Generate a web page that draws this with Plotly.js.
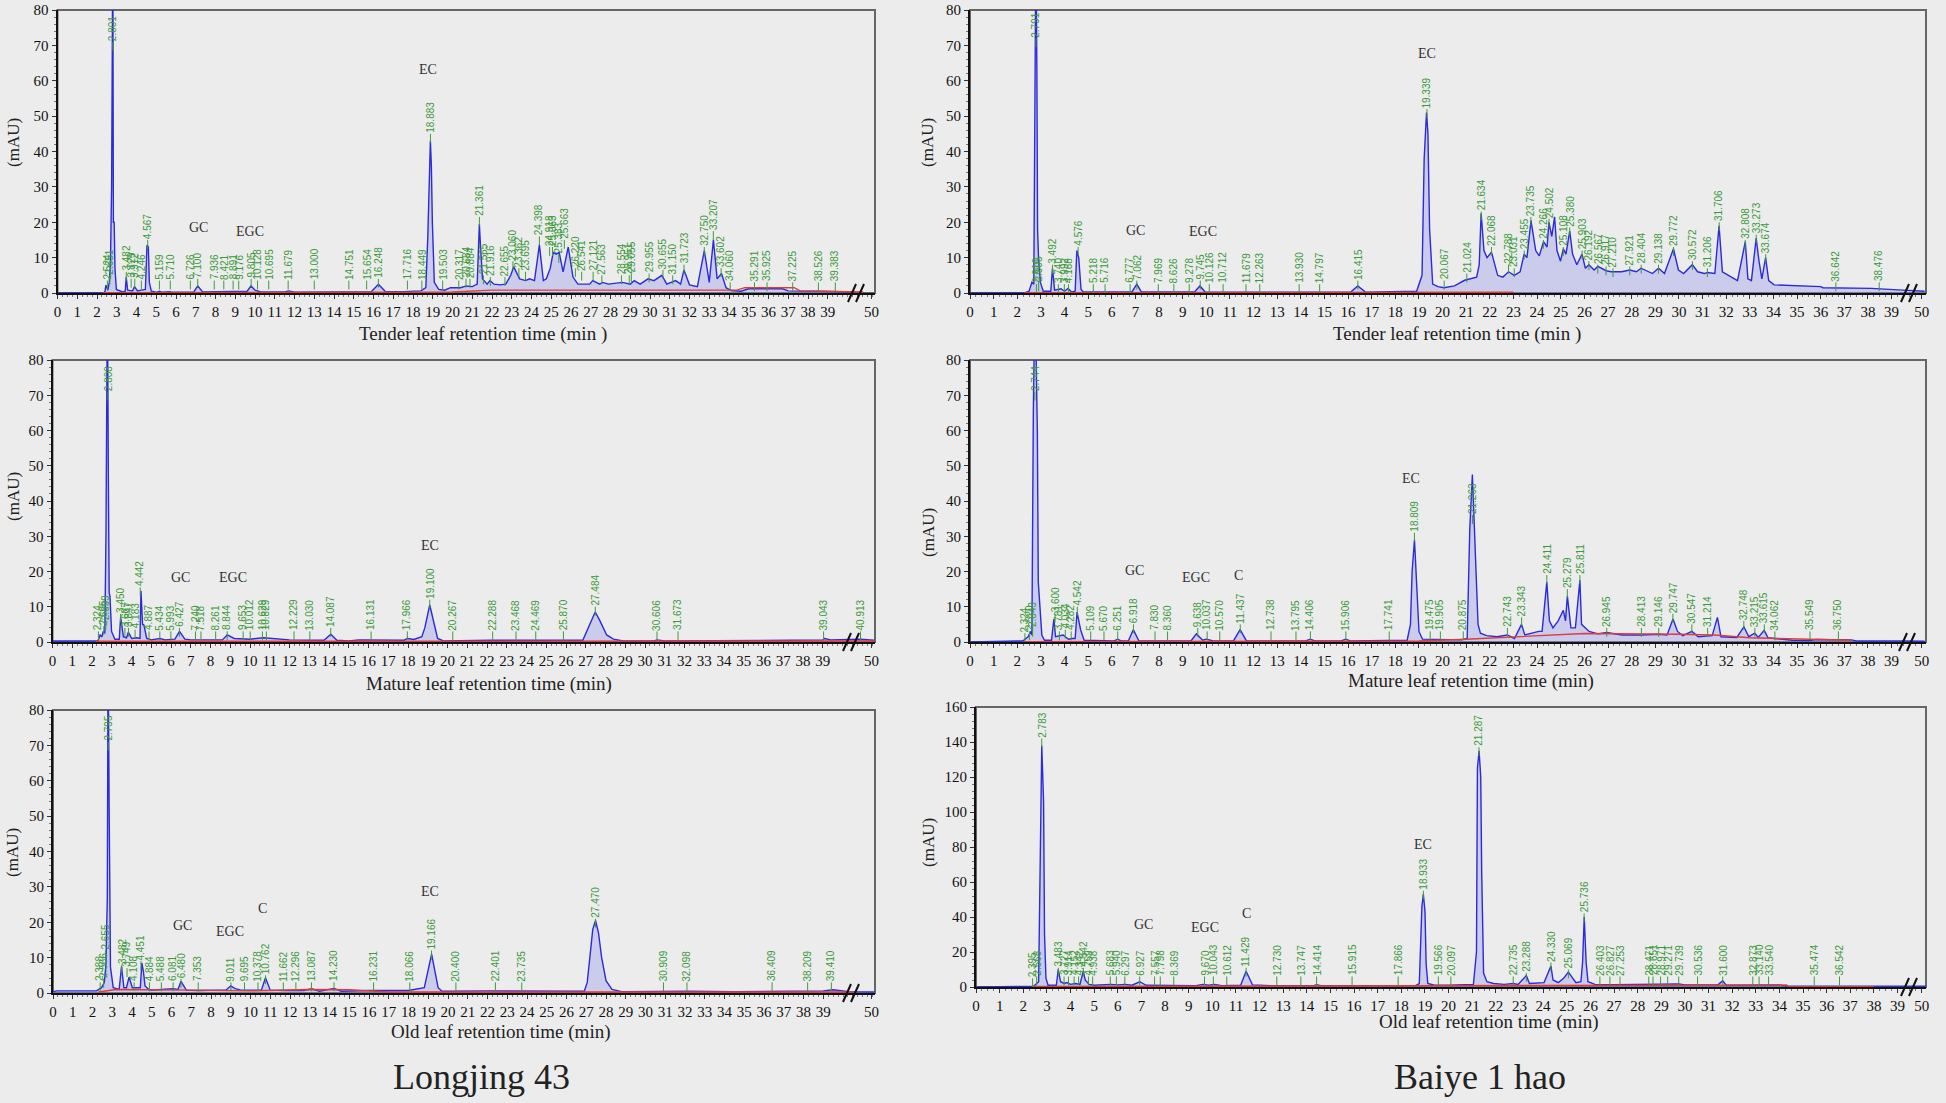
<!DOCTYPE html>
<html><head><meta charset="utf-8">
<script src="https://cdn.plot.ly/plotly-3.0.1.min.js"></script>
<style>html,body{margin:0;padding:0;background:#ececec;}#chart{width:1946px;height:1103px;}</style>
</head><body><div id="chart"></div>
<script>
// ===================== DATA =====================
// Longjing 43 - Tender leaf
const ljTender_t = [0,2.3,2.4,2.45,2.55,2.62,2.68,2.74,2.8,2.83,2.87,2.91,2.98,3.3,3.43,3.48,3.55,3.8,3.9,4.05,4.25,4.45,4.53,4.6,4.65,4.75,5.0,5.16,5.3,5.7,5.8,6.9,7.1,7.35,9.6,9.8,10.0,10.3,11.5,11.7,12.0,15.9,16.25,16.6,17.5,18.4,18.65,18.75,18.88,18.93,18.98,19.08,19.3,19.6,19.9,20.4,20.7,21.0,21.25,21.36,21.42,21.52,21.6,21.75,21.9,22.1,22.4,22.7,22.95,23.1,23.4,23.7,23.9,24.15,24.4,24.6,24.75,24.95,25.1,25.25,25.4,25.6,25.86,26.1,26.35,26.95,27.1,27.45,27.6,27.9,28.6,29.0,29.2,29.5,29.9,30.2,30.6,30.85,31.3,31.55,31.72,32.0,32.4,32.75,33.0,33.21,33.4,33.62,33.85,34.1,34.6,35.0,36.7,37.0,38.5,40.4];
const ljTender_y = [0,0,0.3,2.2,0.8,3,8,30,100,20,20,7,1,0.3,0.5,4.5,0.8,0.6,1.8,0.6,0.8,1,13.5,13,3,0.5,0.2,0.5,0.2,0.4,0.2,0.3,2,0.3,0.5,2,0.8,0.3,0.3,0.6,0.2,0.4,2.5,0.4,0.4,0.6,1.5,16,43,36,20,3,1,0.8,1.5,1.5,2,1.8,2.5,19.5,13,4,3.5,2.5,3.5,2.5,2.3,2.5,5,7.4,4,3.5,4,3.5,13.6,3.5,4,7,11.5,11,11.5,6,13,4.5,2.5,2.5,3.5,2.5,3,2.5,3,2.5,3.5,2.5,4,3.5,5,2.5,3.5,2.5,6.5,2.3,1.8,12,3,15,4,5.5,1.5,0.7,0.5,1.2,1.2,0.6,0.5,0.3];
const ljTender_base_t = [2.3,20,22,34.4,34.8,37.3,37.6,40.8];
const ljTender_base_y = [0.1,0.3,0.8,0.8,1.5,1.5,0.6,0.3];
const ljTender_rt = [2.524,2.651,2.801,3.482,3.729,3.912,4.246,4.567,5.159,5.710,6.726,7.100,7.936,8.421,8.891,9.176,9.805,10.128,10.695,11.679,13.000,14.751,15.654,16.248,17.716,18.449,18.883,19.503,20.317,20.684,20.884,21.361,21.565,21.916,22.655,23.060,23.362,23.695,24.398,24.918,25.063,25.383,25.663,26.220,26.541,27.121,27.563,28.554,28.951,29.055,29.955,30.655,31.150,31.723,32.750,33.207,33.602,34.060,35.291,35.925,37.225,38.526,39.383];
const ljTender_ly = [3.5,5,71,6,4,4,3.5,15,3.5,3.5,3.5,4,3.5,3.5,3.5,3.5,4,3.5,3.5,3.5,3.5,3.5,3.5,4,3.5,3.5,45,3.5,3.5,4,4,21.5,5,4.5,4.5,9,7,6,16,13,13,11,15,7,6,6,5,5,5,5.5,5.5,6.5,5,8,13,17.5,7,3,3,3,3,3,3];
const ljTender_cmp = ['GC','EGC','EC'];
const ljTender_cmp_t = [7.13,9.74,18.77];
const ljTender_cmp_y = [16,14.9,60.7];

// Baiye 1 hao - Tender leaf
const byTender_t = [0,2.3,2.5,2.62,2.7,2.75,2.79,2.83,2.86,2.9,2.98,3.1,3.42,3.49,3.58,3.85,4.0,4.15,4.3,4.45,4.52,4.6,4.7,4.8,6.85,7.06,7.25,9.5,9.73,9.95,16.1,16.41,16.75,18.9,19.13,19.22,19.32,19.38,19.45,19.58,19.8,20.06,20.5,20.93,21.2,21.44,21.55,21.63,21.75,21.88,22.07,22.33,22.55,22.79,23.03,23.28,23.45,23.57,23.74,23.94,24.09,24.27,24.42,24.5,24.62,24.74,24.84,24.99,25.11,25.22,25.38,25.5,25.68,25.9,26.04,26.19,26.41,26.57,26.92,27.14,27.58,27.92,28.2,28.4,28.88,29.14,29.39,29.77,29.98,30.2,30.57,30.79,31.08,31.2,31.52,31.7,31.84,32.48,32.81,32.92,33.07,33.27,33.39,33.51,33.67,33.8,34.03,34.6,36.0,36.1,38.15,39.47,40.4];
const byTender_y = [0,0,0.5,3,2.5,58,100,63,18,10,3,0.5,0.5,7,0.8,1.2,0.5,1.3,0.3,0.5,12,10,1,0.3,0.3,2.5,0.3,0.3,2,0.3,0.2,2,0.2,0.5,5,38,51,45,18,2.5,1.8,1.5,2,3.6,4,4.5,8,22.5,12,10,11.5,5,4.5,6,5,6,11,10,20.5,12,10.5,14.5,13,20,16,21.5,12,9,12.5,11,17.5,11,8,11,7,8,6.5,7.5,6.3,6,6,6.5,6,7,5.5,7,5.5,12.5,6.5,5.5,8,6,5.5,5.8,5.5,19,6,3.5,14.5,4,3.5,15.5,9,4,10,3.5,2.3,2.2,1.8,1.5,1.3,0.8,0.5];
const byTender_base_t = [2.3,23];
const byTender_base_y = [0.1,0.2];
const byTender_rt = [2.810,2.905,2.791,3.492,3.740,3.992,4.168,4.576,5.218,5.716,6.777,7.062,7.969,8.626,9.278,9.745,10.126,10.712,11.679,12.263,13.930,14.797,16.415,19.339,20.067,21.024,21.634,22.068,22.788,23.031,23.455,23.735,24.266,24.502,25.108,25.380,25.903,26.192,26.567,26.917,27.210,27.921,28.404,29.138,29.772,30.572,31.206,31.706,32.808,33.273,33.674,36.642,38.476];
const byTender_ly = [2.5,3,72,8,2.5,2.5,2.5,13,2.5,2.5,2.5,3.5,2.5,2.5,2.5,3.5,2.5,2.5,2.5,2.5,2.5,2.5,3.5,52,3.5,5.5,23,13,8,7,12,21.5,15,21,13,18.5,12,9,8,7.5,7,7.5,8,8,13,9,7,20,15,16.5,11,3,3];
const byTender_cmp = ['GC','EGC','EC'];
const byTender_cmp_t = [7.01,9.88,19.34];
const byTender_cmp_y = [15.2,14.9,65.4];

// Longjing 43 - Mature leaf
const ljMature_t = [0,2.3,2.41,2.5,2.57,2.65,2.71,2.78,2.83,2.87,2.91,2.99,3.16,3.38,3.45,3.59,3.75,3.84,4.01,4.26,4.43,4.48,4.56,4.63,4.77,5.0,5.44,5.7,6.2,6.43,6.7,7.0,8.6,8.85,9.2,9.6,10.0,10.68,11.5,12.0,13.75,14.09,14.4,15.0,15.5,16.5,17.0,17.8,17.97,18.3,18.7,18.85,19.1,19.35,19.5,19.8,22.2,26.85,27.2,27.48,27.72,28.06,28.4,28.9,30.45,30.61,31.0,34.0,34.2,36.4,36.6,37.5,39.0,39.1,39.4,40.9,41.6];
const ljMature_y = [0.3,0.3,2,1.5,3,2.5,32,100,45,14,13,3,0.8,0.8,7,1.5,1.2,2.8,1,1.2,1,14.5,5,4.8,1,0.6,1,0.6,0.8,3,0.8,0.6,0.6,2,1,0.8,0.8,1.2,0.8,0.6,0.5,2.2,0.5,0.3,0.6,0.6,0.4,0.5,1,0.7,1.5,4,10.5,4,1,0.3,0.5,0.5,5,8.5,6,2,0.8,0.3,0.3,0.6,0.3,0.3,0.5,0.5,0.3,0.5,0.6,1,0.6,0.8,0.5];
const ljMature_base_t = [2.2,41.6];
const ljMature_base_y = [0.2,0.3];
const ljMature_rt = [2.324,2.595,2.699,2.808,3.450,3.667,3.847,4.183,4.442,4.887,5.434,5.993,6.427,7.240,7.518,8.261,8.844,9.653,10.012,10.629,10.829,12.229,13.030,14.087,16.131,17.966,19.100,20.267,22.288,23.468,24.469,25.870,27.484,30.606,31.673,39.043,40.913];
const ljMature_ly = [3,4.5,6,71,8,4,4,3.5,15.5,3,3,3,4,3,3,3,3,3,3,3,3,3,3,4,3,3,12,3,3,3,3,3,10,3,3,3,3];
const ljMature_cmp = ['GC','EGC','EC'];
const ljMature_cmp_t = [6.46,9.16,19.11];
const ljMature_cmp_y = [15.8,15.8,25];

// Baiye 1 hao - Mature leaf
const byMature_t = [0,2.23,2.46,2.56,2.62,2.68,2.75,2.85,2.89,2.96,3.04,3.15,3.45,3.55,3.62,3.94,4.17,4.31,4.45,4.53,4.6,4.68,4.83,6.1,6.25,6.4,6.7,6.91,7.15,9.35,9.58,9.85,10.0,10.3,11.15,11.43,11.7,14.2,14.4,14.6,15.7,15.9,16.1,17.3,18.5,18.64,18.71,18.81,18.93,19.0,19.15,20.8,21.04,21.15,21.26,21.33,21.4,21.5,21.6,21.86,22.3,22.74,23.04,23.34,23.48,23.77,24.07,24.21,24.41,24.52,24.67,24.89,25.11,25.2,25.28,25.43,25.62,25.81,25.88,26.2,26.57,26.94,27.6,28.41,29.15,29.5,29.75,29.94,30.16,30.55,30.82,31.41,31.63,31.78,32.45,32.75,32.96,33.21,33.36,33.61,33.77,34.06,34.8,35.54,35.8,37.3,37.5,39.5,40.4];
const byMature_y = [0,0.3,1.5,3,2,65,100,60,17,8.5,2,0.5,0.5,6.5,1.5,2,0.8,1,1,8.5,6,3.5,0.5,0.3,0.8,0.3,0.3,3.5,0.3,0.3,2.3,0.5,0.8,0.3,0.3,3.5,0.3,0.3,0.8,0.3,0.3,0.8,0.3,0.5,0.5,5,20,29,13,3,0.8,0.6,1,32,47.5,35,25,5,2.5,1.8,1.5,2,1,5,2,2.5,3,3,17,6,4,6,9,6,13,4,4,17.5,5,3,2.3,2.7,2,2,2.2,2,6.5,3,1.8,3,1.5,1.8,7,1.5,1.3,4.3,1.5,2.5,1.3,3.3,1.2,1,0.5,0.4,0.7,0.6,0.3,0.3,0.2];
const byMature_base_t = [2.3,19,21,24,26,30,31.5,33,35,37.3];
const byMature_base_y = [0.1,0.3,0.8,1.8,2.4,2.2,2.0,1.2,0.9,0.5];
const byMature_rt = [2.324,2.520,2.649,2.744,3.600,3.781,4.034,4.282,4.542,5.109,5.670,6.251,6.918,7.830,8.360,9.638,10.037,10.570,11.437,12.738,13.795,14.406,15.906,17.741,18.809,19.475,19.905,20.875,21.263,22.743,23.343,24.411,25.279,25.811,26.945,28.413,29.146,29.747,30.547,31.214,32.748,33.215,33.615,34.062,35.549,36.750];
const byMature_ly = [2.5,3,4,71,8,3,3.5,3,10,3,3,3,5,3,3,4,3,3,5,3,3,3,3,3,31,3,3,3,36,4,7,19,15,19,4,4,4,8,5,4,6,4,5,3,3,3];
const byMature_cmp = ['GC','EGC','C','EC'];
const byMature_cmp_t = [6.98,9.58,11.36,18.68];
const byMature_cmp_y = [17.9,16,16.5,44];

// Longjing 43 - Old leaf
const ljOld_t = [0,0.2,2.2,2.46,2.6,2.68,2.75,2.79,2.84,2.91,3.05,3.35,3.47,3.59,3.72,3.85,4.02,4.28,4.42,4.5,4.58,4.66,4.9,5.49,6.08,6.33,6.48,6.75,7.35,8.4,8.75,9.0,9.2,9.5,10.4,10.55,10.76,11.0,11.8,12.7,13.09,13.5,14.23,14.6,16.0,17.0,18.0,18.8,19.17,19.5,19.7,22.0,25.0,26.9,27.05,27.2,27.33,27.47,27.62,27.78,28.0,28.3,28.8,32.2,34.5,39.0,39.5,40.3,41.6];
const ljOld_y = [0.4,0.6,0.6,1.5,3,8,27,100,54.5,7.3,1.5,1,7.5,1.5,1.5,4.5,1.5,1.5,1.5,8.5,6,2,0.8,1,1.2,1,3.3,0.8,0.7,0.8,0.8,2,1.3,0.8,0.9,0.8,4.3,0.8,0.7,0.7,1.2,0.5,1.3,0.5,0.7,0.7,0.7,1.5,11,1.5,0.5,0.6,0.6,0.5,3,11,18,20.5,17,10,3.5,1,0.4,0.5,0.4,0.6,0.9,0.4,0.3];
const ljOld_base_t = [2.3,3.2,7,10,13,15,17,40.5];
const ljOld_base_y = [0.3,1.0,0.8,0.6,1.0,0.9,0.3,0.3];
const ljOld_rt = [2.388,2.566,2.655,2.795,3.482,3.749,4.108,4.451,4.884,5.488,6.081,6.480,7.353,9.011,9.695,10.378,10.762,11.662,12.296,13.087,14.230,16.231,18.066,19.166,20.400,22.401,23.735,27.470,30.909,32.098,36.409,38.209,39.410];
const ljOld_ly = [3,4,12,71,8,7,3,9,3,3,3,4,3,3,3,3,5,3,3,3,3,3,3,12,3,3,3,21,3,3,3,3,3];
const ljOld_cmp = ['GC','EGC','C','EC'];
const ljOld_cmp_t = [6.58,8.97,10.62,19.07];
const ljOld_cmp_y = [16.7,15,21.6,26.3];

// Baiye 1 hao - Old leaf
const byOld_t = [0,2.45,2.65,2.73,2.783,2.86,2.9,2.96,3.05,3.4,3.48,3.58,3.73,3.85,4.0,4.2,4.4,4.54,4.62,4.79,5.0,5.7,6.0,6.3,6.6,6.93,7.2,9.3,9.6,9.85,10.1,10.4,11.2,11.43,11.7,12.5,14.3,14.41,14.6,18.6,18.76,18.87,18.93,19.0,19.05,19.12,19.4,20.0,21.05,21.18,21.22,21.29,21.36,21.4,21.48,21.62,21.9,22.35,22.74,22.94,23.29,23.42,23.82,24.04,24.33,24.42,24.64,24.87,25.07,25.24,25.39,25.6,25.67,25.74,25.82,25.9,26.19,27.0,29.74,30.0,31.4,31.6,31.75,34.0,34.3,38.0,40.2];
const byOld_y = [0,0.5,3,106,138,106,30,5,1,1,10,3,2,2.5,1.5,2,1.5,9,4,1.5,1,1.5,1.2,1.5,1,3,1,0.8,1.5,1,1.5,0.8,1,9,1.2,0.8,0.8,1.3,0.8,0.8,2,46,53,43.5,13,2,1,1,1.5,20,125,135,120,66,8,3,2,1.5,2,1.5,6.5,2,2.5,2.5,12,4,2.5,5,8.5,5.5,2.5,3,14,40,14,3,1.5,1.3,1.8,1.2,1.2,3.5,1,1.2,0.5,0.5,0.4];
const byOld_base_t = [2.4,20,34.3,34.4,38];
const byOld_base_y = [0.3,0.8,1.1,0.2,0.2];
const byOld_rt = [2.395,2.568,2.783,3.483,3.727,3.914,4.152,4.342,4.542,4.759,4.938,5.683,5.940,6.297,6.927,7.557,7.798,8.369,9.670,10.043,10.612,11.429,12.730,13.747,14.414,15.915,17.866,18.933,19.566,20.097,21.287,22.735,23.288,24.330,25.069,25.736,26.403,26.827,27.253,28.471,28.651,28.971,29.271,29.739,30.536,31.600,32.873,33.140,33.540,35.474,36.542];
const byOld_ly = [5,6,142,11,6,6,6,6,11,6,6,6,6,6,6,6,6,6,6,6,6,11,6,6,6,6,6,55,6,6,137,6,8,14,10,42,6,6,6,6,6,6,6,6,6,6,6,6,6,6,6];
const byOld_cmp = ['GC','EGC','C','EC'];
const byOld_cmp_t = [7.1,9.7,11.43,18.9];
const byOld_cmp_y = [31,29,37,76.7];

const xTickLabels = ['0','1','2','3','4','5','6','7','8','9','10','11','12','13','14','15','16','17','18','19','20','21','22','23','24','25','26','27','28','29','30','31','32','33','34','35','36','37','38','39','50'];
const varietyNames = ['Longjing 43','Baiye 1 hao'];

// ===================== LAYOUT / STYLE =====================
const W = 1946, H = 1103;
const panels = [
  {t:ljTender_t,y:ljTender_y,bt:ljTender_base_t,by:ljTender_base_y,rt:ljTender_rt,ly:ljTender_ly,cn:ljTender_cmp,ct:ljTender_cmp_t,cy:ljTender_cmp_y,
   L:57.5,R:875,top:10,bot:293,ppm:19.75,ymax:80,ydt:10,tick:2.5,
   xt:'Tender leaf retention time (min )',xtx:483,xty:334,ytx:13,yty:143,brk:857},
  {t:byTender_t,y:byTender_y,bt:byTender_base_t,by:byTender_base_y,rt:byTender_rt,ly:byTender_ly,cn:byTender_cmp,ct:byTender_cmp_t,cy:byTender_cmp_y,
   L:970,R:1926,top:10,bot:293,ppm:23.63,ymax:80,ydt:10,tick:2.5,
   xt:'Tender leaf retention time (min )',xtx:1457,xty:334,ytx:927,yty:143,brk:1910},
  {t:ljMature_t,y:ljMature_y,bt:ljMature_base_t,by:ljMature_base_y,rt:ljMature_rt,ly:ljMature_ly,cn:ljMature_cmp,ct:ljMature_cmp_t,cy:ljMature_cmp_y,
   L:52.5,R:875,top:360,bot:642,ppm:19.75,ymax:80,ydt:10,tick:2.5,
   xt:'Mature leaf retention time (min)',xtx:489,xty:684,ytx:13,yty:497,brk:852},
  {t:byMature_t,y:byMature_y,bt:byMature_base_t,by:byMature_base_y,rt:byMature_rt,ly:byMature_ly,cn:byMature_cmp,ct:byMature_cmp_t,cy:byMature_cmp_y,
   L:970,R:1926,top:360,bot:642,ppm:23.63,ymax:80,ydt:10,tick:2.5,
   xt:'Mature leaf retention time (min)',xtx:1471,xty:681,ytx:928,yty:533,brk:1908},
  {t:ljOld_t,y:ljOld_y,bt:ljOld_base_t,by:ljOld_base_y,rt:ljOld_rt,ly:ljOld_ly,cn:ljOld_cmp,ct:ljOld_cmp_t,cy:ljOld_cmp_y,
   L:53,R:875,top:710,bot:993,ppm:19.75,ymax:80,ydt:10,tick:2.5,
   xt:'Old leaf retention time (min)',xtx:500,xty:1032,ytx:12,yty:853,brk:852},
  {t:byOld_t,y:byOld_y,bt:byOld_base_t,by:byOld_base_y,rt:byOld_rt,ly:byOld_ly,cn:byOld_cmp,ct:byOld_cmp_t,cy:byOld_cmp_y,
   L:976,R:1926,top:707,bot:987,ppm:23.63,ymax:160,ydt:20,tick:5,
   xt:'Old leaf retention time (min)',xtx:1488,xty:1022,ytx:928,yty:843,brk:1910}
];

const serif = 'Liberation Serif, Times New Roman, serif';
const traces = [];
const annotations = [];
const shapes = [];
const layout = {
  width: W, height: H,
  margin: {l:0, r:0, t:0, b:0},
  paper_bgcolor: '#ececec', plot_bgcolor: '#ececec',
  showlegend: false
};
const px = v => v / W;
const py = v => 1 - v / H;

panels.forEach((p, i) => {
  const s = i === 0 ? '' : String(i + 1);
  const xr = 'x' + s, yr = 'y' + s;
  const xmax = (p.R - p.L) / p.ppm;
  const tv = [];
  for (let k = 0; k < 40; k++) tv.push(k);
  tv.push(xmax - 0.18);
  layout['xaxis' + s] = {
    domain: [px(p.L), px(p.R)], range: [0, xmax], anchor: yr,
    tickmode: 'array', tickvals: tv, ticktext: xTickLabels,
    ticks: 'outside', ticklen: 4, tickcolor: '#333', tickwidth: 1,
    tickfont: {family: serif, size: 15, color: '#111'},
    showgrid: false, zeroline: false, showline: true, linecolor: '#111', linewidth: 2,
    minor: {ticks: 'outside', ticklen: 2, tickmode: 'linear', tick0: 0, dtick: 0.25, tickcolor: '#777', tickwidth: 1}
  };
  layout['yaxis' + s] = {
    domain: [py(p.bot), py(p.top)], range: [0, p.ymax], anchor: xr,
    tickmode: 'linear', tick0: 0, dtick: p.ydt,
    ticks: 'outside', ticklen: 4, tickcolor: '#333',
    tickfont: {family: serif, size: 15, color: '#111'},
    showgrid: false, zeroline: false, showline: true, linecolor: '#111', linewidth: 2,
    minor: {ticks: 'outside', ticklen: 2, dtick: p.ydt / 5, tickcolor: '#777'}
  };
  // frame
  shapes.push({type: 'rect', xref: 'paper', yref: 'paper', x0: px(p.L), x1: px(p.R), y0: py(p.bot), y1: py(p.top),
    line: {color: '#666', width: 2}, layer: 'below'});
  // axis break "//"
  for (let k = 0; k < 2; k++) {
    shapes.push({type: 'line', xref: 'paper', yref: 'paper',
      x0: px(p.brk - 9 + k * 8), y0: py(p.bot + 9), x1: px(p.brk - 1 + k * 8), y1: py(p.bot - 9),
      line: {color: '#111', width: 2}});
  }
  // chromatogram
  traces.push({type: 'scatter', mode: 'lines', x: p.t, y: p.y, xaxis: xr, yaxis: yr,
    line: {color: '#2b2bd9', width: 1.4}, fill: 'tozeroy', fillcolor: 'rgba(150,150,235,0.38)', hoverinfo: 'skip'});
  // baseline
  traces.push({type: 'scatter', mode: 'lines', x: p.bt, y: p.by, xaxis: xr, yaxis: yr,
    line: {color: '#e03a3a', width: 1.4}, hoverinfo: 'skip'});
  // green peak ticks
  const gx = [], gy = [];
  p.rt.forEach((r, k) => { gx.push(r, r, null); gy.push(Math.max(0, p.ly[k] - p.tick), p.ly[k], null); });
  traces.push({type: 'scatter', mode: 'lines', x: gx, y: gy, xaxis: xr, yaxis: yr,
    line: {color: '#3c9c3c', width: 1}, hoverinfo: 'skip'});
  // green peak labels
  p.rt.forEach((r, k) => {
    annotations.push({xref: xr, yref: yr, x: r, y: p.ly[k], text: r.toFixed(3), textangle: -90,
      showarrow: false, xanchor: 'center', yanchor: 'bottom', borderpad: 0,
      font: {family: 'Liberation Sans, Arial, sans-serif', size: 10, color: '#3a9a3a'}});
  });
  // compound names
  p.cn.forEach((c, k) => {
    annotations.push({xref: xr, yref: yr, x: p.ct[k], y: p.cy[k], text: c, showarrow: false,
      xanchor: 'center', yanchor: 'bottom', borderpad: 0,
      font: {family: serif, size: 14, color: '#333'}});
  });
  // axis titles
  annotations.push({xref: 'paper', yref: 'paper', x: px(p.xtx), y: py(p.xty), text: p.xt, showarrow: false,
    xanchor: 'center', yanchor: 'middle', font: {family: serif, size: 19, color: '#222'}});
  annotations.push({xref: 'paper', yref: 'paper', x: px(p.ytx), y: py(p.yty), text: '(mAU)', textangle: -90, showarrow: false,
    xanchor: 'center', yanchor: 'middle', font: {family: serif, size: 17, color: '#222'}});
});

// variety names
annotations.push({xref: 'paper', yref: 'paper', x: px(481), y: py(1077), text: varietyNames[0], showarrow: false,
  xanchor: 'center', yanchor: 'middle', font: {family: serif, size: 36, color: '#222'}});
annotations.push({xref: 'paper', yref: 'paper', x: px(1480), y: py(1077), text: varietyNames[1], showarrow: false,
  xanchor: 'center', yanchor: 'middle', font: {family: serif, size: 36, color: '#222'}});

layout.annotations = annotations;
layout.shapes = shapes;
Plotly.newPlot('chart', traces, layout, {staticPlot: true, displayModeBar: false});
</script>
</body></html>
